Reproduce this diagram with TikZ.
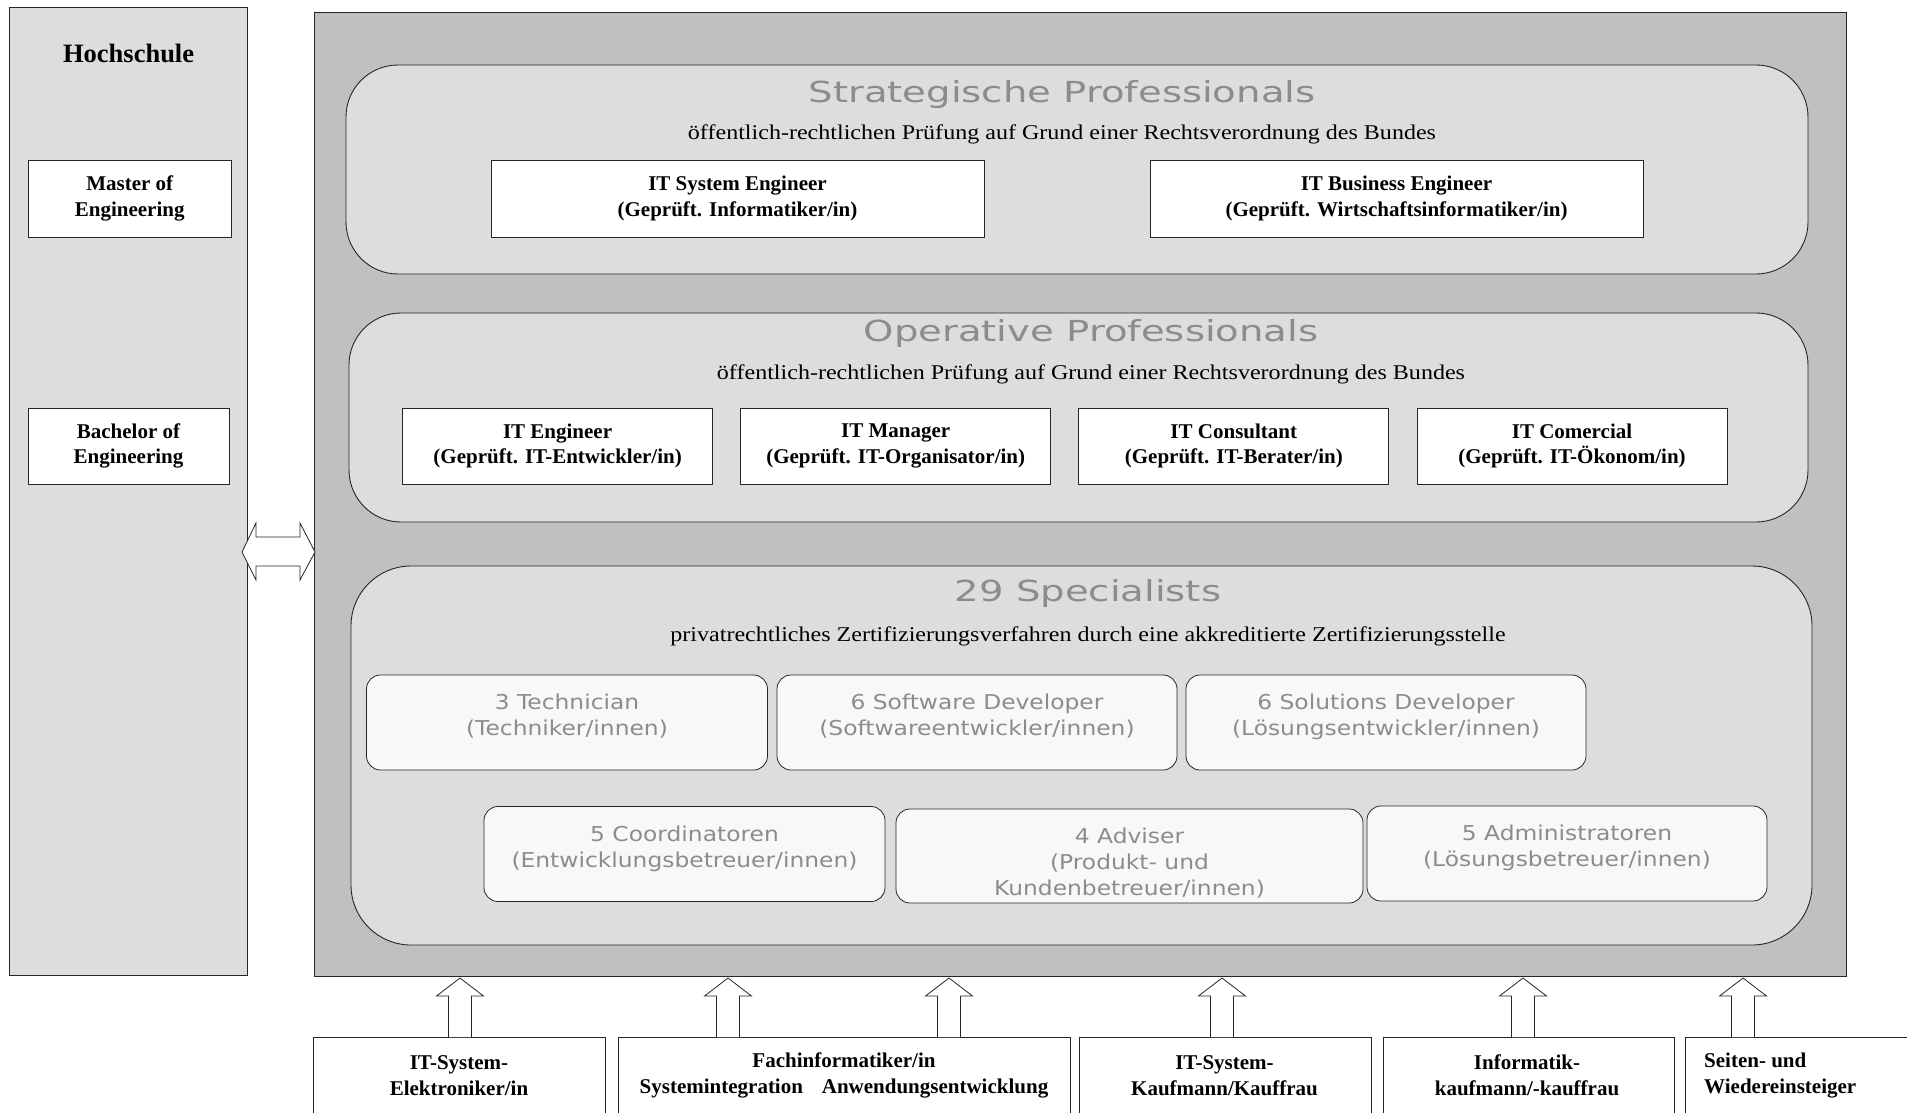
\documentclass[tikz,border=0pt]{standalone}
\usepackage{fontspec}
\setmainfont{Liberation Serif}
\newfontfamily\titlefont[FakeStretch=1.33]{DejaVu Sans}
\newfontfamily\specfont[FakeStretch=1.14]{DejaVu Sans}
\newfontfamily\subfont[FakeStretch=1.145]{Liberation Serif}
\usetikzlibrary{calc}
\definecolor{panelgrey}{HTML}{C0C0C0}
\definecolor{innergrey}{HTML}{DDDDDD}
\definecolor{specfill}{HTML}{F8F8F8}
\definecolor{softtext}{HTML}{8C8C8C}
\begin{document}
\begin{tikzpicture}[x=1pt,y=-1pt,
  frame/.style={draw=black!85, line width=0.9pt, inner sep=0pt},
  bigbox/.style={frame, fill=innergrey, rounded corners=52pt},
  whitebox/.style={frame, fill=white, align=center, font=\bfseries\fontsize{21}{25.5}\selectfont},
  specbox/.style={draw=black!85, line width=0.8pt, fill=specfill, rounded corners=14pt, inner sep=0pt},
  spectext/.style={inner sep=0pt, anchor=north, align=center, text=softtext, font=\specfont\fontsize{20.5}{26}\selectfont},
  bigtitle/.style={inner sep=0pt, text=softtext, font=\titlefont\fontsize{29}{34}\selectfont},
  subtitle/.style={inner sep=0pt, font=\subfont\fontsize{21}{24}\selectfont},
  bottombox/.style={frame, fill=white, anchor=north west},
  bottomtext/.style={inner sep=0pt, align=center, font=\bfseries\fontsize{21}{26}\selectfont},
  blockarrow/.style={draw=black!85, line width=0.8pt, fill=white},
  uparrow/.pic={\draw[blockarrow] (-11.5,0) -- (-11.5,-41) -- (-23.5,-41) -- (0,-59) -- (23.5,-41) -- (11.5,-41) -- (11.5,0);}
]
\useasboundingbox (0,0) rectangle (1907,1112);

% Hochschule panel
\node[frame, fill=innergrey, minimum width=237.8pt, minimum height=968pt] (hs) at (128.6,491.4) {};
\node[inner sep=0pt, font=\bfseries\fontsize{26.5}{30}\selectfont] (hstitle) at (128.6,53) {Hochschule};
\node[whitebox, minimum width=203.5pt, minimum height=77pt] (master) at (129.7,198.5) {Master of\\Engineering};
\node[whitebox, minimum width=201pt, minimum height=76pt] (bachelor) at (128.5,446) {Bachelor of\\Engineering};

% main panel
\node[frame, fill=panelgrey, minimum width=1532pt, minimum height=964pt] (main) at (1080,494) {};

% strategic
\node[bigbox, minimum width=1462pt, minimum height=209pt] (strat) at (1077,169.5) {};
\node[bigtitle] (strattitle) at (1062,94.5) {Strategische Professionals};
\node[subtitle] (stratsub) at (1062,134.5) {öffentlich-rechtlichen Prüfung auf Grund einer Rechtsverordnung des Bundes};
\node[whitebox, minimum width=493pt, minimum height=77pt] (sysEng) at (737.5,198.5) {IT System Engineer\\(Geprüft. Informatiker/in)};
\node[whitebox, minimum width=493pt, minimum height=77pt] (busEng) at (1396.5,198.5) {IT Business Engineer\\(Geprüft. Wirtschaftsinformatiker/in)};

% operative
\node[bigbox, minimum width=1459pt, minimum height=209pt] (oper) at (1078.5,417.5) {};
\node[bigtitle] (opertitle) at (1091,333.5) {Operative Professionals};
\node[subtitle] (opersub) at (1091,374.5) {öffentlich-rechtlichen Prüfung auf Grund einer Rechtsverordnung des Bundes};
\node[whitebox, minimum width=310pt, minimum height=76pt] (itEng) at (557.6,446) {IT Engineer\\(Geprüft. IT-Entwickler/in)};
\node[whitebox, minimum width=310pt, minimum height=76pt] (itMan) at (895.7,446) {IT Manager\\(Geprüft. IT-Organisator/in)};
\node[whitebox, minimum width=310pt, minimum height=76pt] (itCon) at (1233.8,446) {IT Consultant\\(Geprüft. IT-Berater/in)};
\node[whitebox, minimum width=310pt, minimum height=76pt] (itCom) at (1572,446) {IT Comercial\\(Geprüft. IT-Ökonom/in)};

% specialists
\node[bigbox, rounded corners=60pt, minimum width=1461pt, minimum height=379pt] (spec) at (1081.5,755.5) {};
\node[bigtitle] (spectitle) at (1088,593.5) {29 Specialists};
\node[subtitle] (specsub) at (1088,636.5) {privatrechtliches Zertifizierungsverfahren durch eine akkreditierte Zertifizierungsstelle};

\node[specbox, minimum width=401pt, minimum height=95pt] (tech) at (567,722.5) {};
\node[specbox, minimum width=400pt, minimum height=95pt] (swdev) at (977,722.5) {};
\node[specbox, minimum width=400pt, minimum height=95pt] (soldev) at (1386,722.5) {};
\node[specbox, minimum width=401pt, minimum height=95pt] (coord) at (684.5,854) {};
\node[specbox, minimum width=467pt, minimum height=94pt] (advis) at (1129.5,856) {};
\node[specbox, minimum width=400pt, minimum height=95pt] (admin) at (1567,853.5) {};

\node[spectext] (techT) at ($(tech.north)+(0,19.5)$) {3 Technician\\(Techniker/innen)};
\node[spectext] (swdevT) at ($(swdev.north)+(0,19.5)$) {6 Software Developer\\(Softwareentwickler/innen)};
\node[spectext] (soldevT) at ($(soldev.north)+(0,19.5)$) {6 Solutions Developer\\(Lösungsentwickler/innen)};
\node[spectext] (coordT) at ($(coord.north)+(0,19.5)$) {5 Coordinatoren\\(Entwicklungsbetreuer/innen)};
\node[spectext] (advisT) at ($(advis.north)+(0,19.5)$) {4 Adviser\\(Produkt- und\\Kundenbetreuer/innen)};
\node[spectext] (adminT) at ($(admin.north)+(0,19.5)$) {5 Administratoren\\(Lösungsbetreuer/innen)};

% double arrow between Hochschule and main panel
\draw[blockarrow] (242,552) -- (256,523) -- (256,537) -- (300,537) -- (300,523) -- (315,552) -- (300,580) -- (300,566) -- (256,566) -- (256,580) -- cycle;

% bottom boxes
\node[bottombox, minimum width=291.5pt, minimum height=90pt] (b1) at (313,1037) {};
\node[bottombox, minimum width=452pt, minimum height=90pt] (b2) at (618,1037) {};
\node[bottombox, minimum width=291.5pt, minimum height=90pt] (b3) at (1079,1037) {};
\node[bottombox, minimum width=291.5pt, minimum height=90pt] (b4) at (1382.5,1037) {};
\node[bottombox, minimum width=222pt, minimum height=90pt] (b5) at (1685,1037) {};

\node[bottomtext] (b1T) at (459,1075.5) {IT-System-\\Elektroniker/in};
\node[bottomtext] (b2T) at (844,1075.5) {Fachinformatiker/in\\Systemintegration\hspace{0.9em}Anwendungsentwicklung};
\node[bottomtext] (b3T) at (1224.5,1075.5) {IT-System-\\Kaufmann/Kauffrau};
\node[bottomtext] (b4T) at (1527,1075.5) {Informatik-\\kaufmann/-kauffrau};
\node[bottomtext, align=left, anchor=west] (b5T) at (1704,1075.5) {Seiten- und\\Wiedereinsteiger};

% up arrows from bottom boxes into the main panel
\pic at ($(b1.north west)+(147,0)$) {uparrow};
\pic at ($(b2.north west)+(110,0)$) {uparrow};
\pic at ($(b2.north west)+(331,0)$) {uparrow};
\pic at ($(b3.north west)+(143,0)$) {uparrow};
\pic at ($(b4.north west)+(140.5,0)$) {uparrow};
\pic at ($(b5.north west)+(58,0)$) {uparrow};
\end{tikzpicture}
\end{document}
